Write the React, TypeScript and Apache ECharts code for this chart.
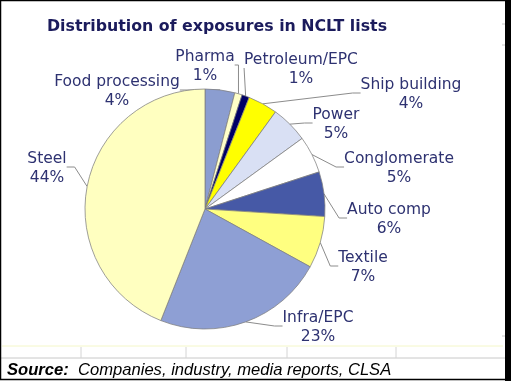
import React, { useEffect, useRef } from "react";
import * as echarts from "echarts";

const categories = [
  "Food processing",
  "Pharma",
  "Petroleum/EPC",
  "Ship building",
  "Power",
  "Conglomerate",
  "Auto comp",
  "Textile",
  "Infra/EPC",
  "Steel",
];
const shares = [4, 1, 1, 4, 5, 5, 6, 7, 23, 44];
const sliceColors = [
  "#8B9DD0",
  "#FFFFC8",
  "#000066",
  "#FFFF00",
  "#D9E0F4",
  "#FFFFFF",
  "#4659A6",
  "#FFFF80",
  "#8E9FD4",
  "#FFFFC0",
];
// label block centres (layout only)
const labelSpots: [number, number][] = [
  [117, 90],
  [205, 65],
  [301, 68],
  [411, 93],
  [336, 123],
  [399, 167],
  [389, 218],
  [363, 266],
  [318, 326],
  [47, 167],
];
const titleText = "Distribution of exposures in NCLT lists";
const sourceLead = "Source:";
const sourceText = "Companies, industry, media reports, CLSA";
const gridXs = [81, 186, 287, 396];

export default function App() {
  const ref = useRef<HTMLDivElement>(null);
  useEffect(() => {
    if (!ref.current) return;
    const chart = echarts.init(ref.current, null, { renderer: "svg" });
    const graphics: any[] = [
      { type: "rect", shape: { x: 0, y: 0, width: 511, height: 381 }, style: { fill: "#fff" }, z: -10 },
      { type: "line", shape: { x1: 2, y1: 346, x2: 503, y2: 346 }, style: { stroke: "#F4F7C8", lineWidth: 1 } },
      { type: "line", shape: { x1: 0, y1: 358, x2: 505, y2: 358 }, style: { stroke: "#C8C8C8", lineWidth: 1 } },
      ...gridXs.map((x) => ({
        type: "line",
        shape: { x1: x, y1: 347, x2: x, y2: 358 },
        style: { stroke: "#D4D4D4", lineWidth: 1 },
      })),
      ...[24, 45, 336].map((y) => ({
        type: "line",
        shape: { x1: 502, y1: y, x2: 506, y2: y },
        style: { stroke: "#C8C8C8", lineWidth: 1 },
      })),
      { type: "rect", shape: { x: 0.5, y: 0.5, width: 507, height: 379 }, style: { fill: "none", stroke: "#000", lineWidth: 1.5 } },
      { type: "rect", shape: { x: 505, y: 0, width: 6, height: 381 }, style: { fill: "#000" } },
      {
        type: "text",
        x: 7,
        y: 369,
        style: {
          text: "{b|" + sourceLead + "}  " + sourceText,
          fontFamily: "Liberation Sans",
          fontStyle: "italic",
          fontSize: 16.6,
          fill: "#000",
          verticalAlign: "middle",
          rich: {
            b: { fontFamily: "Liberation Sans", fontStyle: "italic", fontWeight: "bold", fontSize: 16.6, fill: "#000" },
          },
        },
      },
    ];
    chart.setOption({
      animation: false,
      backgroundColor: "transparent",
      title: {
        text: titleText,
        left: 42,
        top: 12,
        textStyle: { fontFamily: "DejaVu Sans", fontWeight: "bold", fontSize: 15.8, color: "#1B1B5C" },
      },
      graphic: graphics,
      series: [
        {
          type: "pie",
          center: [205, 209],
          radius: 120,
          startAngle: 90,
          clockwise: true,
          avoidLabelOverlap: false,
          data: categories.map((name, i) => ({
            name,
            value: shares[i],
            itemStyle: { color: sliceColors[i] },
          })),
          itemStyle: { borderColor: "#7F7F7F", borderWidth: 0.75 },
          label: {
            show: true,
            position: "outside",
            formatter: "{b}\n{c}%",
            fontFamily: "DejaVu Sans",
            fontSize: 15.5,
            lineHeight: 19,
            color: "#2E3271",
            align: "center",
          },
          labelLine: {
            show: true,
            length: 8,
            length2: 8,
            lineStyle: { color: "#8C8C8C", width: 1 },
          },
          labelLayout: (p: any) => {
            const s = labelSpots[p.dataIndex];
            return { x: s[0], y: s[1], align: "center", verticalAlign: "middle" };
          },
          emphasis: { disabled: true },
        },
      ],
    });
    return () => chart.dispose();
  }, []);
  return (
    <div
      ref={ref}
      style={{ position: "fixed", left: 0, top: 0, width: 511, height: 381 }}
    />
  );
}
